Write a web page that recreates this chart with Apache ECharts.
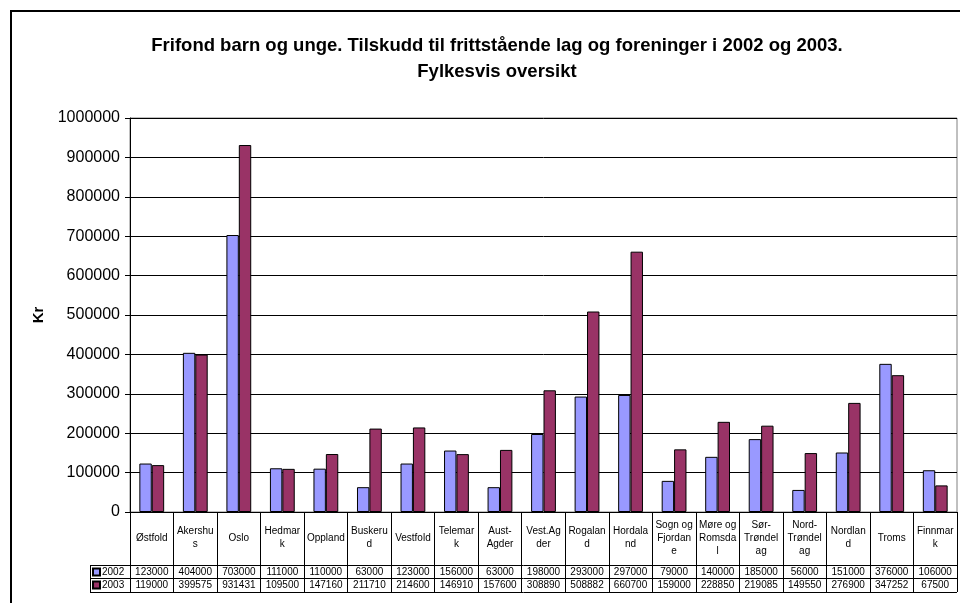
<!DOCTYPE html>
<html><head><meta charset="utf-8">
<script src="https://cdn.jsdelivr.net/npm/echarts@6/dist/echarts.min.js"></script>
<style>html,body{margin:0;padding:0;background:#fff}#c{width:960px;height:603px}</style>
</head><body><div id="c"></div>
<script>
var categories = ['Østfold','Akershu\ns','Oslo','Hedmar\nk','Oppland','Buskeru\nd','Vestfold','Telemar\nk','Aust-\nAgder','Vest.Ag\nder','Rogalan\nd','Hordala\nnd','Sogn og\nFjordan\ne','Møre og\nRomsda\nl','Sør-\nTrøndel\nag','Nord-\nTrøndel\nag','Nordlan\nd','Troms','Finnmar\nk'];
var values2002 = [123000,404000,703000,111000,110000,63000,123000,156000,63000,198000,293000,297000,79000,140000,185000,56000,151000,376000,106000];
var values2003 = [119000,399575,931431,109500,147160,211710,214600,146910,157600,308890,508882,660700,159000,228850,219085,149550,276900,347252,67500];
var yTicks = {min:0, max:1000000, interval:100000};
var seriesNames = ['2002','2003'];
var titleText = 'Frifond barn og unge. Tilskudd til frittstående lag og foreninger i 2002 og 2003.\nFylkesvis oversikt';
var yName = 'Kr';

var FONT = '"Liberation Sans", Arial, sans-serif';
var chart = echarts.init(document.getElementById('c'), null, {renderer:'canvas'});
var GL = 130, GR = 957, GT = 118, GB = 512;
var lineStyle = {stroke:'#000', lineWidth:1};
function hline(y, x1, x2){return {type:'line', shape:{x1:x1,y1:y,x2:x2,y2:y}, style:lineStyle, silent:true, z:10};}
function vline(x, y1, y2){return {type:'line', shape:{x1:x,y1:y1,x2:x,y2:y2}, style:lineStyle, silent:true, z:10};}

var option = {
  animation:false,
  backgroundColor:'#fff',
  textStyle:{fontFamily:FONT},
  title:{text:titleText, left:492, textAlign:'center', top:28,
    textStyle:{fontFamily:FONT, fontSize:18.5, fontWeight:'bold', color:'#000', lineHeight:26}},
  legend:{data:seriesNames, orient:'vertical', left:92, top:566, padding:0, itemWidth:7, itemHeight:7, itemGap:1,
    textStyle:{fontFamily:FONT, fontSize:10, color:'#000', padding:[0,0,0,-3], lineHeight:12}, icon:'rect'},
  grid:{left:GL, right:960-GR, top:GT, bottom:603-GB, show:true, borderColor:'#808080', borderWidth:1, backgroundColor:'#fff'},
  xAxis:[
    {type:'category', data:categories, position:'bottom',
     axisLine:{lineStyle:{color:'#000'}},
     axisTick:{show:true, length:80, lineStyle:{color:'#000'}, interval:0},
     axisLabel:{interval:0, margin:26, verticalAlign:'middle', fontSize:10, color:'#000', fontFamily:FONT, lineHeight:13}},
    {type:'category', data:categories, position:'bottom', gridIndex:0,
     axisLine:{show:false}, axisTick:{show:false},
     axisLabel:{interval:0, margin:60, verticalAlign:'middle', fontSize:10, color:'#000', fontFamily:FONT,
       formatter:function(v,i){return String(values2002[i]);}}},
    {type:'category', data:categories, position:'bottom', gridIndex:0,
     axisLine:{show:false}, axisTick:{show:false},
     axisLabel:{interval:0, margin:73, verticalAlign:'middle', fontSize:10, color:'#000', fontFamily:FONT,
       formatter:function(v,i){return String(values2003[i]);}}}
  ],
  yAxis:{type:'value', min:yTicks.min, max:yTicks.max, interval:yTicks.interval,
    name:yName, nameLocation:'middle', nameGap:76, nameRotate:90,
    nameTextStyle:{fontFamily:FONT, fontSize:15, fontWeight:'bold', color:'#000'},
    axisLine:{show:true, lineStyle:{color:'#000'}},
    axisTick:{show:true, length:5, lineStyle:{color:'#000'}},
    axisLabel:{fontSize:16, color:'#000', margin:10, fontFamily:FONT, formatter:function(v){return String(v);}},
    splitLine:{show:true, lineStyle:{color:'#000', width:1}}},
  series:[
    {name:seriesNames[0], type:'bar', data:values2002, barGap:'0%', barCategoryGap:'43%',
     itemStyle:{color:'#9999FF', borderColor:'#000', borderWidth:1}},
    {name:seriesNames[1], type:'bar', data:values2003, barGap:'0%', barCategoryGap:'43%',
     itemStyle:{color:'#993366', borderColor:'#000', borderWidth:1}}
  ],
  graphic:[
    {type:'rect', shape:{x:11,y:11,width:980,height:620}, style:{fill:'none', stroke:'#000', lineWidth:2}, silent:true, z:20},
    hline(565.5, 90, GR), hline(578.5, 90, GR), hline(592.5, 90, GR),
    vline(90.5, 565, 593)
  ]
};
chart.setOption(option);
</script></body></html>
